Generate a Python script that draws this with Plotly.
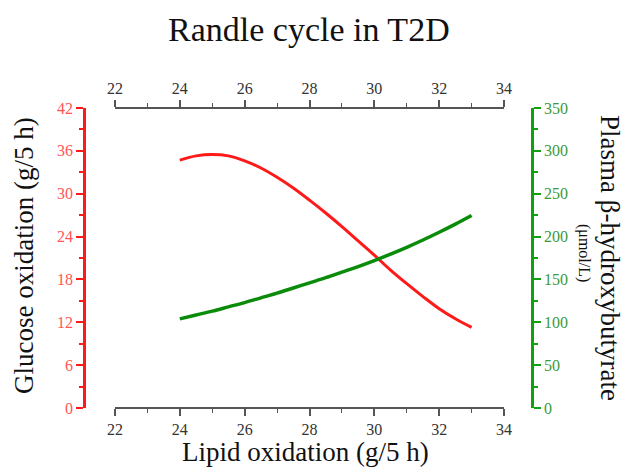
import plotly.graph_objects as go

lipid = [24, 24.5, 25, 25.5, 26, 26.5, 27, 27.5, 28, 28.5, 29, 29.5, 30, 30.5, 31, 31.5, 32, 32.5, 33]
glucose = [34.7, 35.3, 35.5, 35.3, 34.6, 33.6, 32.3, 30.8, 29.1, 27.3, 25.4, 23.4, 21.4, 19.3, 17.4, 15.6, 13.9, 12.5, 11.3]
bhb = [104, 108.5, 113, 118, 123, 128.5, 134, 140, 146, 152, 158.5, 165, 172, 179.5, 187.5, 196, 205, 214.5, 224.5]

W, H = 629, 470
FONT = "Liberation Serif"

def px(x):
    return x / W

def py(y):
    return 1 - y / H

fig = go.Figure()
fig.add_trace(go.Scatter(x=lipid, y=glucose, mode="lines", line=dict(color="#ff1a1a", width=3, shape="spline"),
                         xaxis="x", yaxis="y", showlegend=False))
fig.add_trace(go.Scatter(x=lipid, y=bhb, mode="lines", line=dict(color="#0a8c0a", width=3.5, shape="spline"),
                         xaxis="x", yaxis="y2", showlegend=False))
# invisible trace for top axis
fig.add_trace(go.Scatter(x=lipid, y=glucose, mode="lines", line=dict(width=0), opacity=0,
                         xaxis="x2", yaxis="y", showlegend=False, hoverinfo="skip"))

xdom = [px(115), px(504)]
ydom = [py(408), py(108)]
gray = "#555555"
common_x = dict(range=[22, 34], dtick=2, tick0=22, showgrid=False, zeroline=False, showline=True,
                linecolor=gray, linewidth=1.5, ticks="outside", ticklen=7, tickwidth=1.5, tickcolor=gray,
                tickfont=dict(family=FONT, size=16, color="#333333"),
                minor=dict(dtick=1, ticks="outside", ticklen=4, tickwidth=1.2, tickcolor=gray),
                domain=xdom, automargin=False)

fig.update_layout(
    width=W, height=H, margin=dict(l=0, r=0, t=0, b=0),
    paper_bgcolor="white", plot_bgcolor="white",
    xaxis=dict(**common_x, anchor="free", position=ydom[0], side="bottom"),
    xaxis2=dict(**common_x, anchor="free", position=ydom[1], side="top", overlaying="x"),
    yaxis=dict(range=[0, 42], dtick=6, tick0=0, domain=ydom, anchor="free", position=px(84), side="left",
               showgrid=False, zeroline=False, showline=True, linecolor="#ff1a1a", linewidth=2.5,
               ticks="outside", ticklen=7, tickwidth=2, tickcolor="#ff1a1a",
               tickfont=dict(family=FONT, size=16, color="#ff5555"),
               minor=dict(dtick=3, ticks="outside", ticklen=4, tickwidth=1.5, tickcolor="#ff1a1a"),
               automargin=False),
    yaxis2=dict(range=[0, 350], dtick=50, tick0=0, domain=ydom, anchor="free", position=px(532), side="right",
                overlaying="y", showgrid=False, zeroline=False, showline=True, linecolor="#10a010", linewidth=2.5,
                ticks="outside", ticklen=7, tickwidth=2, tickcolor="#10a010",
                tickfont=dict(family=FONT, size=16, color="#3a9a3a"),
                minor=dict(dtick=25, ticks="outside", ticklen=4, tickwidth=1.5, tickcolor="#10a010"),
                automargin=False),
    annotations=[
        dict(text="Randle cycle in T2D", x=px(309), y=py(30), xref="paper", yref="paper", showarrow=False,
             font=dict(family=FONT, size=34, color="#111111"), xanchor="center", yanchor="middle"),
        dict(text="Lipid oxidation (g/5 h)", x=px(305), y=py(452), xref="paper", yref="paper", showarrow=False,
             font=dict(family=FONT, size=27, color="#111111"), xanchor="center", yanchor="middle"),
        dict(text="Glucose oxidation (g/5 h)", x=px(24), y=py(256), xref="paper", yref="paper", showarrow=False,
             textangle=-90, font=dict(family=FONT, size=27, color="#111111"), xanchor="center", yanchor="middle"),
        dict(text="Plasma β-hydroxybutyrate", x=px(610), y=py(258), xref="paper", yref="paper", showarrow=False,
             textangle=90, font=dict(family=FONT, size=27, color="#111111"), xanchor="center", yanchor="middle"),
        dict(text="(μmol/L)", x=px(584), y=py(253), xref="paper", yref="paper", showarrow=False,
             textangle=90, font=dict(family=FONT, size=16, color="#111111"), xanchor="center", yanchor="middle"),
    ],
)

fig.write_html("out.html")
